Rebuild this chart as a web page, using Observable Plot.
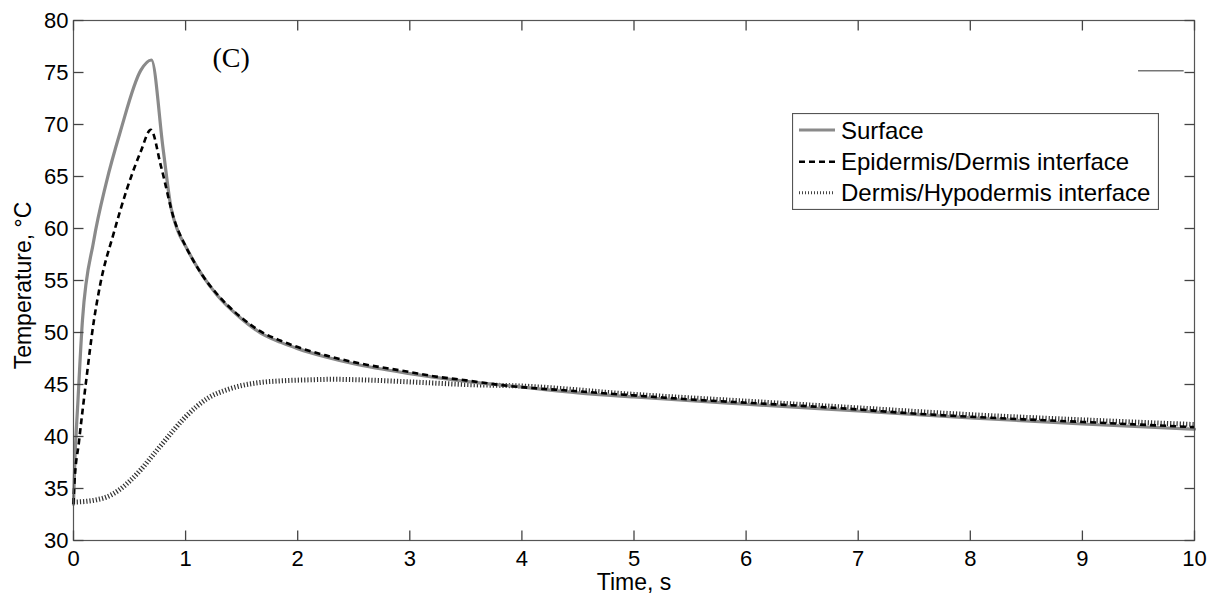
<!DOCTYPE html>
<html>
<head>
<meta charset="utf-8">
<script src="https://cdn.jsdelivr.net/npm/d3@7"></script>
<script src="https://cdn.jsdelivr.net/npm/@observablehq/plot@0.6"></script>
<style>
  html, body { margin: 0; padding: 0; background: #fff; }
  #wrap { position: relative; width: 1218px; height: 599px; font-family: "Liberation Sans", Arial, sans-serif; }
  #legend { position: absolute; left: 792px; top: 113px; }
</style>
</head>
<body>
<div id="wrap"><div id="chart"></div><svg id="legend" width="367" height="97"></svg></div>
<script>
// ---- data ----
const seriesNames = ["Surface", "Epidermis/Dermis interface", "Dermis/Hypodermis interface"];

const tSurface = [0, 0.01, 0.04, 0.08, 0.18, 0.29, 0.42, 0.6, 0.695, 0.8, 0.87, 0.93, 1.0, 1.07, 1.15, 1.28, 1.49, 1.67, 1.85, 2.0, 2.25, 2.5, 3.0, 3.5, 4.0, 4.5, 5, 6, 7, 8, 9, 10];
const surface  = [33.5, 37.0, 43.5, 51.2, 58.8, 64.3, 69.4, 75.2, 76.2, 67.6, 62.0, 59.8, 58.3, 56.9, 55.5, 53.6, 51.4, 49.95, 49.05, 48.45, 47.65, 47.0, 46.05, 45.3, 44.75, 44.2, 43.8, 43.1, 42.45, 41.8, 41.2, 40.7];

const tEpi      = [0, 0.006, 0.05, 0.11, 0.18, 0.24, 0.36, 0.48, 0.6, 0.69, 0.78, 0.9, 1.0, 1.07, 1.15, 1.28, 1.49, 1.67, 1.85, 2.0, 2.25, 2.5, 3.0, 3.21, 3.5, 3.81, 4.5, 5, 5.59, 6, 7, 7.37, 8, 9, 10];
const epidermis = [33.5, 35.1, 39.6, 45.1, 51.0, 54.7, 59.6, 63.9, 67.4, 69.5, 66.0, 60.8, 58.3, 56.9, 55.5, 53.7, 51.5, 50.1, 49.2, 48.6, 47.8, 47.15, 46.2, 45.8, 45.4, 44.95, 44.35, 43.95, 43.5, 43.25, 42.6, 42.3, 41.9, 41.4, 40.9];

const tDerm  = [0, 0.1, 0.2, 0.3, 0.4, 0.5, 0.6, 0.7, 0.8, 0.9, 1.0, 1.1, 1.2, 1.37, 1.5, 1.67, 1.85, 2.11, 2.3, 2.56, 3.0, 3.5, 4.0, 5, 6, 7, 8, 9, 10];
const dermis = [33.7, 33.75, 33.9, 34.2, 34.8, 35.7, 36.8, 38.1, 39.4, 40.7, 41.9, 42.9, 43.7, 44.5, 44.9, 45.2, 45.35, 45.45, 45.5, 45.45, 45.25, 45.0, 44.85, 44.05, 43.4, 42.75, 42.1, 41.6, 41.15];

const xTicks = [0, 1, 2, 3, 4, 5, 6, 7, 8, 9, 10];
const yTicks = [30, 35, 40, 45, 50, 55, 60, 65, 70, 75, 80];
const xDomain = [0, 10];
const yDomain = [30, 80];
const xLabel = "Time, s";
const yLabel = "Temperature, °C";
const panelLabel = "(C)";
// small stray horizontal stroke visible near top right of the original
const strayX = [9.5, 9.9];
const strayY = [75.16, 75.16];

// ---- build tables ----
const surfRows = tSurface.map((t, i) => ({t, v: surface[i]}));
const epiRows = tEpi.map((t, i) => ({t, v: epidermis[i]}));
const dermRows = tDerm.map((t, i) => ({t, v: dermis[i]}));
const strayRows = strayX.map((x, i) => ({x, y: strayY[i]}));

const W = 1218, H = 599, ML = 73, MR = 24, MT = 20, MB = 59;
const frameW = W - ML - MR, frameH = H - MT - MB, TICK = 10;
const tickLenY = (yDomain[1] - yDomain[0]) * TICK / frameH;
const tickLenX = (xDomain[1] - xDomain[0]) * TICK / frameW;

// inward tick segments built from the tick arrays
const bottomTicks = xTicks.map(x => ({x, a: yDomain[0], b: yDomain[0] + tickLenY}));
const topTicks = xTicks.map(x => ({x, a: yDomain[1], b: yDomain[1] - tickLenY}));
const leftTicks = yTicks.map(y => ({y, a: xDomain[0], b: xDomain[0] + tickLenX}));
const rightTicks = yTicks.map(y => ({y, a: xDomain[1], b: xDomain[1] - tickLenX}));

const styles = {
  surface: {stroke: "#8a8a8a", strokeWidth: 3.2},
  epi: {stroke: "#000", strokeWidth: 2.6, strokeDasharray: "6,4", strokeLinecap: "butt"},
  derm: {stroke: "#333", strokeWidth: 5, strokeDasharray: "1.2,2", strokeLinecap: "butt"}
};
const tickStyle = {stroke: "#444", strokeWidth: 1.3, strokeLinecap: "butt"};

const chart = Plot.plot({
  width: W,
  height: H,
  marginLeft: ML,
  marginRight: MR,
  marginTop: MT,
  marginBottom: MB,
  style: {fontFamily: "'Liberation Sans', Arial, sans-serif", fontSize: "22px", color: "#000", background: "#fff"},
  x: {domain: xDomain, label: null},
  y: {domain: yDomain, label: null},
  marks: [
    Plot.line(dermRows, {x: "t", y: "v", curve: "monotone-x", ...styles.derm}),
    Plot.line(surfRows, {x: "t", y: "v", curve: "monotone-x", ...styles.surface}),
    Plot.line(epiRows, {x: "t", y: "v", curve: "monotone-x", ...styles.epi}),
    Plot.line(strayRows, {x: "x", y: "y", stroke: "#333", strokeWidth: 1}),
    Plot.frame({stroke: "#555", strokeWidth: 1.2}),
    Plot.link(bottomTicks, {x1: "x", x2: "x", y1: "a", y2: "b", ...tickStyle}),
    Plot.link(topTicks, {x1: "x", x2: "x", y1: "a", y2: "b", ...tickStyle}),
    Plot.link(leftTicks, {y1: "y", y2: "y", x1: "a", x2: "b", ...tickStyle}),
    Plot.link(rightTicks, {y1: "y", y2: "y", x1: "a", x2: "b", ...tickStyle}),
    Plot.axisX({anchor: "bottom", ticks: xTicks, tickSize: 0, tickPadding: 10, label: null, fill: "#000"}),
    Plot.axisY({anchor: "left", ticks: yTicks, tickSize: 0, tickPadding: 5, label: null, fill: "#000"}),
    Plot.text([xLabel], {frameAnchor: "bottom", textAnchor: "middle", lineAnchor: "middle", text: d => d, dy: 42, fontSize: 23, fill: "#000"}),
    Plot.text([yLabel], {frameAnchor: "left", textAnchor: "middle", lineAnchor: "middle", text: d => d, rotate: -90, dx: -50, dy: 5, fontSize: 23, fill: "#000"}),
    Plot.text([panelLabel], {frameAnchor: "top-left", textAnchor: "start", lineAnchor: "middle", text: d => d, dx: 139, dy: 38, fontSize: 28, fontFamily: "'Liberation Serif', 'Times New Roman', serif", fill: "#000"})
  ]
});
document.getElementById("chart").appendChild(chart);

// ---- legend ----
const leg = d3.select("#legend");
leg.append("rect").attr("x", 0.5).attr("y", 0.5).attr("width", 366).attr("height", 96)
  .attr("fill", "#fff").attr("stroke", "#555").attr("stroke-width", 1.2);
const legStyles = [styles.surface, styles.epi, {stroke: "#444", strokeWidth: 4, strokeDasharray: "1,2"}];
const rowY = [17, 48.7, 79.7];
seriesNames.forEach((name, i) => {
  const s = legStyles[i];
  leg.append("line").attr("x1", 7).attr("x2", 43).attr("y1", rowY[i]).attr("y2", rowY[i])
    .attr("stroke", s.stroke).attr("stroke-width", Math.min(s.strokeWidth, 3))
    .attr("stroke-dasharray", s.strokeDasharray || null);
  leg.append("text").attr("x", 49).attr("y", rowY[i] + 8.5).text(name)
    .attr("font-size", 24).attr("font-family", "'Liberation Sans', Arial, sans-serif").attr("fill", "#000");
});
</script>
</body>
</html>
